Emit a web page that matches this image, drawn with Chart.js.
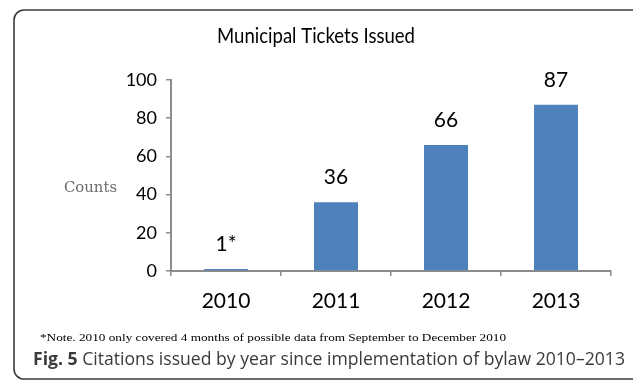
<!DOCTYPE html>
<html>
<head>
<meta charset="utf-8">
<script src="https://cdn.jsdelivr.net/npm/chart.js@4/dist/chart.umd.min.js"></script>
<style>
  html, body { margin: 0; padding: 0; background: #fff; }
  #wrap { width: 633px; height: 381px; position: relative; }
</style>
</head>
<body>
<div id="wrap"><canvas id="ticketChart"></canvas></div>
<script>
// Chart data
const years = ['2010', '2011', '2012', '2013'];
const ticketCounts = [1, 36, 66, 87];
const valueLabels = ['1*', '36', '66', '87'];
const yTicks = [0, 20, 40, 60, 80, 100];

const chartTitle = 'Municipal Tickets Issued';
const axisTitle = 'Counts';
const noteText = '*Note. 2010 only covered 4 months of possible data from September to December 2010';
const figLabel = 'Fig. 5';
const figText = ' Citations issued by year since implementation of bylaw 2010\u20132013';

const sansFont = 'Lato, "Open Sans", sans-serif';

// draw text squeezed/stretched to a target width
function fitText(ctx, text, x, y, width) {
    const w = ctx.measureText(text).width;
    ctx.save();
    ctx.translate(x, y);
    ctx.scale(width / w, 1);
    ctx.fillText(text, 0, 0);
    ctx.restore();
}

// Frame, titles, value labels and caption
const decorPlugin = {
    id: 'decor',
    afterDraw(chart) {
        const ctx = chart.ctx;
        ctx.save();

        // rounded frame
        ctx.strokeStyle = '#3c3c3c';
        ctx.lineWidth = 1.6;
        ctx.beginPath();
        ctx.roundRect(14, 10, 640, 369, 10);
        ctx.stroke();

        ctx.fillStyle = '#000';
        ctx.textBaseline = 'middle';
        ctx.textAlign = 'left';

        // chart title
        ctx.font = '22px ' + sansFont;
        fitText(ctx, chartTitle, 217, 36, 198);

        // y axis title
        ctx.fillStyle = '#6a6a6a';
        ctx.font = '15px "DejaVu Serif", serif';
        fitText(ctx, axisTitle, 64, 188, 53);

        // value labels above the bars
        ctx.fillStyle = '#000';
        ctx.font = '21px ' + sansFont;
        ctx.textAlign = 'center';
        const meta = chart.getDatasetMeta(0);
        meta.data.forEach((bar, i) => {
            ctx.fillText(valueLabels[i], bar.x, bar.y - 25);
        });

        // note
        ctx.textAlign = 'left';
        ctx.font = '11px "Liberation Serif", serif';
        fitText(ctx, noteText, 40, 338, 466);

        // figure caption
        ctx.fillStyle = '#3a3a3a';
        ctx.font = 'bold 18px "Open Sans", sans-serif';
        const boldW = ctx.measureText(figLabel).width;
        ctx.font = '18px "Open Sans", sans-serif';
        const restW = ctx.measureText(figText).width;
        const k = (625 - 33) / (boldW + restW);
        ctx.font = 'bold 18px "Open Sans", sans-serif';
        fitText(ctx, figLabel, 33, 360, boldW * k);
        ctx.font = '18px "Open Sans", sans-serif';
        fitText(ctx, figText, 33 + boldW * k, 360, restW * k);

        ctx.restore();
    }
};

new Chart(document.getElementById('ticketChart'), {
    type: 'bar',
    data: {
        labels: years,
        datasets: [{
            data: ticketCounts,
            backgroundColor: '#4f81bd',
            borderWidth: 0,
            categoryPercentage: 1,
            barPercentage: 0.4
        }]
    },
    options: {
        responsive: true,
        maintainAspectRatio: false,
        animation: false,
        layout: {
            padding: { left: 0, top: 80, right: 22, bottom: 70 }
        },
        plugins: {
            legend: { display: false },
            tooltip: { enabled: false }
        },
        scales: {
            x: {
                afterFit: s => { s.height = 40; },
                grid: {
                    drawOnChartArea: false,
                    offset: true,
                    tickLength: 5,
                    color: '#8c8c8c',
                    lineWidth: 1.5
                },
                border: { color: '#8c8c8c', width: 2 },
                ticks: {
                    color: '#000',
                    padding: 13,
                    font: { family: sansFont, size: 21 }
                }
            },
            y: {
                min: 0,
                max: 100,
                afterFit: s => { s.width = 171; },
                afterBuildTicks: s => { s.ticks = yTicks.map(v => ({ value: v })); },
                grid: {
                    drawOnChartArea: false,
                    tickLength: 5,
                    color: '#8c8c8c',
                    lineWidth: 1.5
                },
                border: { color: '#8c8c8c', width: 2 },
                ticks: {
                    color: '#000',
                    padding: 9,
                    font: { family: sansFont, size: 18 }
                }
            }
        }
    },
    plugins: [decorPlugin]
});
</script>
</body>
</html>
